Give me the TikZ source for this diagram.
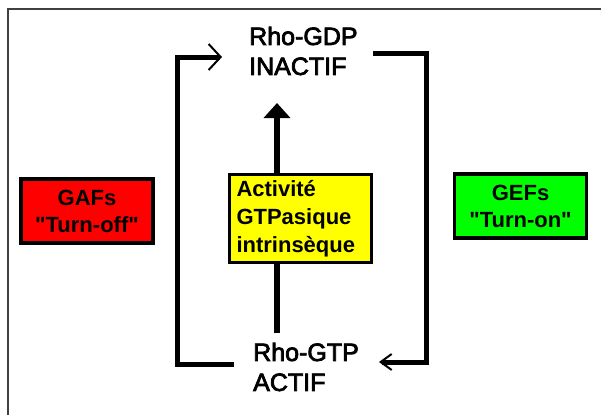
\documentclass[tikz,border=0pt]{standalone}
\usepackage{fontspec}
\setmainfont{Liberation Sans}[Ligatures=TeXOff]
\newfontfamily\rhofont[FakeBold=3,Ligatures=TeXOff]{Liberation Sans}
\usetikzlibrary{arrows.meta}
\definecolor{boxred}{RGB}{255,0,0}
\definecolor{boxyellow}{RGB}{255,255,0}
\definecolor{boxgreen}{RGB}{0,255,0}
\begin{document}
\begin{tikzpicture}[x=1pt,y=-1pt,
  state/.style={inner sep=0pt, align=left, font=\rhofont\fontsize{25}{30}\selectfont},
  agent/.style={draw=black, line width=3.5pt, minimum width=132pt, minimum height=64pt,
    inner sep=0pt, align=center, font=\bfseries\fontsize{22}{27}\selectfont},
  link/.style={line width=5pt},
]
\useasboundingbox (0,0) rectangle (601,415);
\fill[white] (0,0) rectangle (601,415);
\draw[black!75, line width=2pt] (7.5,415) -- (7.5,8.5) -- (601,8.5);

\node[state, anchor=west] (gdp) at (249,51) {Rho-GDP\\INACTIF};
\node[state, anchor=west] (gtp) at (253,367) {Rho-GTP\\ACTIF};

\coordinate (cbot) at (277,333);
\coordinate (ctop) at (277,103);
\draw[line width=6pt, -{Triangle[length=15pt,width=26pt]}] (cbot) -- (ctop);

\node[draw=black, line width=3pt, fill=boxyellow, minimum width=142pt, minimum height=88pt,
  inner xsep=7pt, inner ysep=0pt, text width=128pt, align=left,
  font=\bfseries\fontsize{22}{28}\selectfont] (intr) at (300.5,218.5)
  {Activité\\GTPasique\\intrinsèque};

\node[agent, fill=boxred] (gaf) at (87,211) {GAFs\\"Turn-off"};
\node[agent, fill=boxgreen] (gef) at (520.5,206) {GEFs\\"Turn-on"};

\draw[link, -{Straight Barb[length=12pt,width=26pt,line width=2pt]}]
  ([shift={(-19,-3)}]gtp.west) -- ++(-57,0) |- ([shift={(-27,6)}]gdp.west);
\draw[link, -{Straight Barb[length=11pt,width=16pt,line width=2pt]}]
  ([shift={(15,2)}]gdp.east) -- ++(54,0) |- ([shift={(20,-5)}]gtp.east);
\end{tikzpicture}
\end{document}
